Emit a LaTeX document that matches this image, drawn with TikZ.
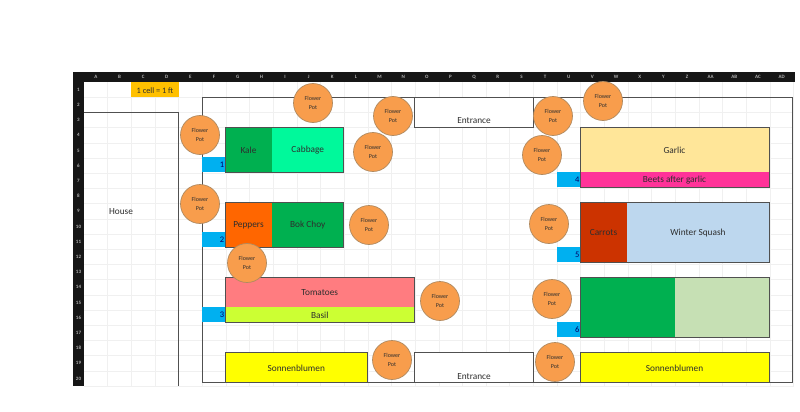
\documentclass[tikz,border=0pt]{standalone}
\usepackage{fontspec}
\setmainfont{Carlito}
\definecolor{hdr}{HTML}{161616}
\definecolor{gridc}{HTML}{F0F0F0}
\definecolor{edge}{HTML}{505050}
\definecolor{potfill}{HTML}{F89D4C}
\definecolor{potedge}{HTML}{B08A60}
\definecolor{tagblue}{HTML}{00B0F0}
\definecolor{kalec}{HTML}{00B050}
\definecolor{cabbagec}{HTML}{00F99B}
\definecolor{pepperc}{HTML}{FF6600}
\definecolor{tomatoc}{HTML}{FF7C80}
\definecolor{basilc}{HTML}{CCFF33}
\definecolor{sunc}{HTML}{FFFF00}
\definecolor{garlicc}{HTML}{FFE699}
\definecolor{beetc}{HTML}{FF3399}
\definecolor{carrotc}{HTML}{CC3300}
\definecolor{squashc}{HTML}{BDD7EE}
\definecolor{lightg}{HTML}{C6E0B4}
\definecolor{legendc}{HTML}{FFC000}
\definecolor{inkc}{HTML}{2E2E2E}
\tikzset{
  plot/.style={inner sep=0pt,outer sep=0pt},
  potnode/.style={circle,draw=potedge,line width=.7pt,fill=potfill,minimum size=39pt,inner sep=0pt,
    align=center,font=\fontsize{6}{8.2}\selectfont,text=inkc},
  wall/.style={draw=edge,line width=1pt},
  hdrlabel/.style={font=\fontsize{5}{5}\selectfont\bfseries,text=white!70!black,inner sep=0pt},
  plain/.style={font=\fontsize{9.3}{10}\selectfont,text=inkc,inner sep=0pt,yshift=-1pt},
  tagnum/.style={font=\fontsize{8.5}{9}\selectfont,text=blue!40!black,inner sep=0pt}
}
\newcommand{\bed}[7][]{%
  \pgfmathsetmacro{\bw}{#5-#3}\pgfmathsetmacro{\bh}{#6-#4}%
  \pgfmathsetmacro{\cx}{(#3+#5)/2}\pgfmathsetmacro{\cy}{(#4+#6)/2}%
  \node[plot,fill=#7,minimum width=\bw pt,minimum height=\bh pt,#1] (#2) at (\cx,\cy) {};}
\begin{document}
\begin{tikzpicture}[x=1pt,y=-1pt]
\useasboundingbox (0,0) rectangle (800,412);
\fill[white] (0,0) rectangle (800,412);
% sheet grid
\foreach \i in {1,...,30} \draw[gridc,line width=.5pt] ({84+23.65*\i},82) -- ({84+23.65*\i},386);
\foreach \i in {1,...,20} \draw[gridc,line width=.5pt] (84,{82+15.2*\i}) -- (794,{82+15.2*\i});
% headers
\fill[hdr] (73,72) rectangle (795,82);
\fill[hdr] (73,72) rectangle (84,386);
\foreach \l [count=\i from 0] in {A,B,C,D,E,F,G,H,I,J,K,L,M,N,O,P,Q,R,S,T,U,V,W,X,Y,Z,AA,AB,AC,AD}
  \node[hdrlabel] (col\l) at ({95.8+23.65*\i},77) {\l};
\foreach \r in {1,...,20}
  \node[hdrlabel] (row\r) at (78.5,{82+15.2*(\r-.5)}) {\r};
% walls
\draw[wall] (84,112) -- (178,112) -- (178,386);
\draw[wall] (202,97) rectangle (792.5,382);
\node[plain] (house) at (121,211) {House};
\bed{legend}{131}{82}{179}{97}{legendc}
\node[plain,font=\fontsize{8.3}{9}\selectfont] (legendt) at (legend.center) {1 cell = 1 ft};
% entrances
\bed{entA}{414}{97}{533}{127}{white}
\draw[wall] (entA.north west) rectangle (entA.south east);
\node[plain] (entAt) at (474,120) {Entrance};
\bed{entB}{414}{352}{533}{382}{white}
\draw[wall] (entB.north west) rectangle (entB.south east);
\node[plain] (entBt) at (474,376) {Entrance};
% number tags
\bed{tagA}{202}{157}{225}{172}{tagblue}
\bed{tagB}{202}{232}{225}{247}{tagblue}
\bed{tagC}{202}{307}{225}{322}{tagblue}
\bed{tagD}{557}{172}{580}{187}{tagblue}
\bed{tagE}{557}{247}{580}{262}{tagblue}
\bed{tagF}{557}{322}{580}{337}{tagblue}
\node[tagnum,anchor=east] (numA) at (224.5,165) {1};
\node[tagnum,anchor=east] (numB) at (224.5,240) {2};
\node[tagnum,anchor=east] (numC) at (224.5,315) {3};
\node[tagnum,anchor=east] (numD) at (579.5,180) {4};
\node[tagnum,anchor=east] (numE) at (579.5,255) {5};
\node[tagnum,anchor=east] (numF) at (579.5,330) {6};
% beds
\bed{kale}{225}{127}{272}{172}{kalec}
\bed{cabbage}{272}{127}{343.5}{172}{cabbagec}
\draw[wall] (kale.north west) rectangle (cabbage.south east);
\bed{peppers}{225}{202}{272}{247}{pepperc}
\bed{bok}{272}{202}{343.5}{247}{kalec}
\draw[wall] (peppers.north west) rectangle (bok.south east);
\bed{tomatoes}{225}{277}{414.5}{307}{tomatoc}
\bed{basil}{225}{307}{414.5}{322}{basilc}
\draw[wall] (tomatoes.north west) rectangle (basil.south east);
\bed{sunA}{225}{352}{367.5}{382}{sunc}
\draw[wall] (sunA.north west) rectangle (sunA.south east);
\bed{garlic}{580}{127}{769}{172}{garlicc}
\bed{beets}{580}{172}{769}{187}{beetc}
\draw[wall] (garlic.north west) rectangle (beets.south east);
\bed{carrots}{580}{202}{627}{262}{carrotc}
\bed{squash}{627}{202}{769}{262}{squashc}
\draw[wall] (carrots.north west) rectangle (squash.south east);
\bed{greenA}{580}{277}{674.5}{337}{kalec}
\bed{greenB}{674.5}{277}{769}{337}{lightg}
\draw[wall] (greenA.north west) rectangle (greenB.south east);
\bed{sunB}{580}{352}{769}{382}{sunc}
\draw[wall] (sunB.north west) rectangle (sunB.south east);
% bed labels
\node[plain] (kalet) at (kale.center) {Kale};
\node[plain] (cabbaget) at (cabbage.center) {Cabbage};
\node[plain] (pepperst) at (peppers.center) {Peppers};
\node[plain] (bokt) at (bok.center) {Bok Choy};
\node[plain] (tomatoest) at (tomatoes.center) {Tomatoes};
\node[plain] (basilt) at (basil.center) {Basil};
\node[plain] (sunAt) at (sunA.center) {Sonnenblumen};
\node[plain] (garlict) at (garlic.center) {Garlic};
\node[plain] (beetst) at (beets.center) {Beets after garlic};
\node[plain] (carrotst) at (carrots.center) {Carrots};
\node[plain] (squasht) at (squash.center) {Winter Squash};
\node[plain] (sunBt) at (sunB.center) {Sonnenblumen};
% flower pots
\foreach \n/\x/\y in {a/313/103,b/200/135,c/200/204,d/247/263,e/393/116,f/373/152,g/553/116,h/542/155,
  i/369/225,j/549/224,k/440/301,l/552/299,m/392/360,n/555/362,o/603/101}
  \node[potnode] (pot\n) at (\x,\y) {Flower\\Pot};
\end{tikzpicture}
\end{document}
